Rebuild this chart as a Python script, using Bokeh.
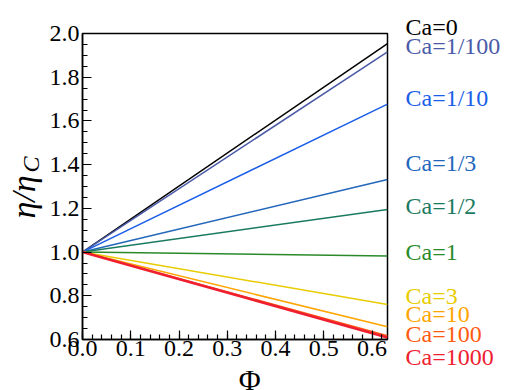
import math
from bokeh.plotting import figure
from bokeh.layouts import row, column
from bokeh.models import Range1d, SingleIntervalTicker, PrintfTickFormatter
from bokeh.core.properties import value
from bokeh.embed import file_html
from bokeh.resources import INLINE

# ---- data ----
phi = [0.0, 0.632]
ca_names = ["Ca=0", "Ca=1/100", "Ca=1/10", "Ca=1/3", "Ca=1/2", "Ca=1",
            "Ca=3", "Ca=10", "Ca=100", "Ca=1000"]
eta_start = [1.0] * 10
eta_end = [1.954, 1.916, 1.677, 1.332, 1.195, 0.982, 0.760, 0.658, 0.617, 0.609]
colors = ["#000000", "#4a5aa8", "#1a5ee8", "#2266bb", "#1a7a60", "#2a8a2a",
          "#e8cc00", "#ffa500", "#ff5a10", "#ee2030"]

W, H = 518, 390
LW = 46          # width of left title strip
RX = 389         # start of right label strip
MH = 367         # height of main plot canvas
FONT = "Liberation Serif"


def strip(width, height, xr, yr):
    f = figure(width=width, height=height, output_backend="svg",
               toolbar_location=None, x_range=Range1d(*xr), y_range=Range1d(*yr),
               x_axis_type=None, y_axis_type=None, min_border=0,
               min_border_left=0, min_border_right=0, min_border_top=0,
               min_border_bottom=0)
    f.grid.visible = False
    f.outline_line_color = None
    f.background_fill_color = "white"
    f.border_fill_color = "white"
    return f


# ---- main plot ----
p = figure(width=RX - LW, height=MH, output_backend="svg", toolbar_location=None,
           x_range=Range1d(0, 0.632), y_range=Range1d(0.6, 2.0),
           min_border_left=80 - LW, min_border_right=2, min_border_top=33,
           min_border_bottom=MH - 339)
p.grid.visible = False
p.outline_line_color = "black"
p.outline_line_width = 1.5
p.background_fill_color = "white"
p.border_fill_color = "white"

for ax in (p.xaxis[0], p.yaxis[0]):
    ax.axis_line_width = 1.5
    ax.major_tick_in = 9
    ax.major_tick_out = 0
    ax.minor_tick_in = 5
    ax.minor_tick_out = 0
    ax.major_tick_line_width = 1.2
    ax.minor_tick_line_width = 1.2
    ax.major_label_text_font = FONT
    ax.major_label_text_font_size = "24px"
    ax.major_label_text_color = "black"
    ax.formatter = PrintfTickFormatter(format="%.1f")

p.xaxis[0].ticker = SingleIntervalTicker(interval=0.1, num_minor_ticks=5)
p.yaxis[0].ticker = SingleIntervalTicker(interval=0.2, num_minor_ticks=4)
p.xaxis[0].major_label_standoff = 1
p.yaxis[0].major_label_standoff = 3

for i, name in enumerate(ca_names):
    lw = 2.6 if name == "Ca=1000" else 1.5
    p.line(phi, [eta_start[i], eta_end[i]], line_color=colors[i], line_width=lw)

# ---- right label strip (page-pixel coordinates, y downward) ----
r = strip(W - RX, H, (RX, W), (H, 0))
label_y_img = [26.7, 45, 97, 162.7, 205, 251.7, 295, 313.3, 333.3, 356.7]
r.text(x=[405] * len(ca_names), y=label_y_img, text=ca_names,
       text_color=colors, text_font=value(FONT), text_font_size="24px",
       text_baseline="middle", text_align="left")

# ---- left title strip ----
l = strip(LW, H, (0, LW), (0, H))
l.text(x=[23], y=[H - 196.5], text=["η/η"], angle=math.pi / 2,
       text_font=value(FONT), text_font_style="italic", text_font_size="34px",
       text_baseline="middle", text_align="center", text_color="black")
l.text(x=[30], y=[H - 164], text=["C"], angle=math.pi / 2,
       text_font=value(FONT), text_font_style="italic", text_font_size="24px",
       text_baseline="middle", text_align="center", text_color="black")

# ---- bottom title strip ----
b = strip(RX - LW, H - MH, (LW, RX), (H, MH))
b.text(x=[234], y=[379], text=["Φ"], text_font=value(FONT),
       text_font_size="30px", text_baseline="middle", text_align="center",
       text_color="black")

layout = row(l, column(p, b), r)
open("out.html", "w").write(file_html(layout, INLINE))
